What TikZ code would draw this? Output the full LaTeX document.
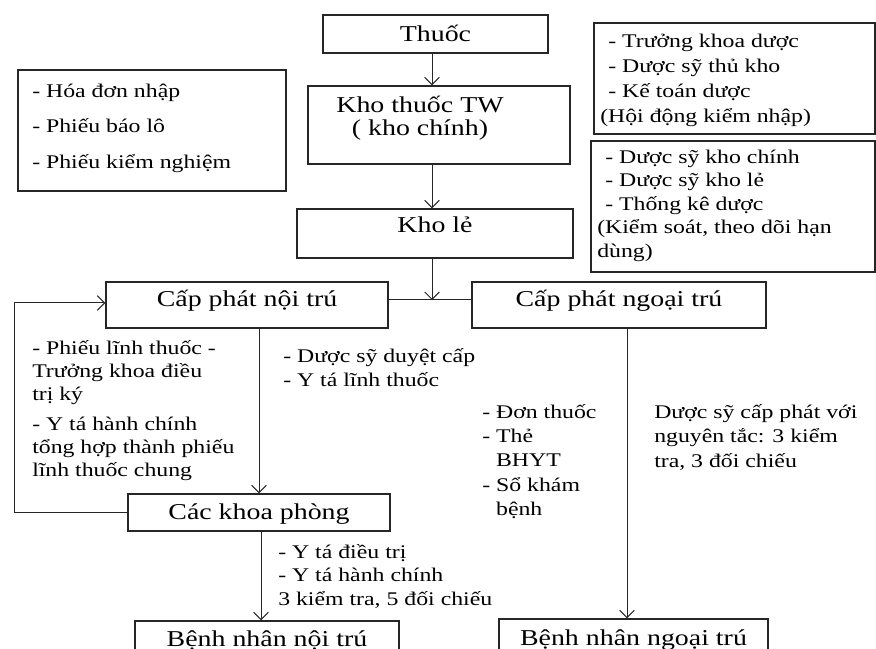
\documentclass[tikz,border=0pt]{standalone}
\usepackage{fontspec}
\setmainfont{Liberation Serif}[FakeStretch=1.23]
\usetikzlibrary{arrows.meta}
\newcommand\fstrut{\rule{0pt}{15pt}}
\newcommand\bstrut{\rule{0pt}{18pt}}
\begin{document}
\begin{tikzpicture}[x=0.75pt,y=-0.75pt,
  box/.style={draw=black!85, line width=1pt, inner sep=0pt, font=\fontsize{17}{20}\selectfont},
  side/.style={anchor=north west, inner sep=0pt, align=left},
  arr/.style={-{Straight Barb[length=5.5pt,width=11pt]}, line width=0.75pt, draw=black!85},
  ln/.style={line width=0.75pt, draw=black!85}]
\useasboundingbox (0,0) rectangle (876,649);
\clip (0,0) rectangle (876,649);
% main boxes
\node[box, minimum width=168.75pt, minimum height=28.5pt, text height=14pt, text depth=2pt] (thuoc) at (435.5,34) {Thuốc};
\node[box, minimum width=196.5pt, minimum height=58.5pt] (khotw) at (439,125) {};
\node[anchor=north, inner sep=0pt, align=center, font=\fontsize{17}{17.25}\selectfont] (khotwtext) at (420,88) {\bstrut Kho thuốc TW\\( kho chính)};
\node[box, minimum width=207pt, minimum height=36.75pt, text height=7.6pt, text depth=8.4pt] (khole) at (435,233.5) {Kho lẻ};
\node[box, minimum width=211.5pt, minimum height=34.5pt, text height=9.5pt, text depth=6.5pt] (cpnoi) at (247,305) {Cấp phát nội trú};
\node[box, minimum width=220.5pt, minimum height=34.5pt, text height=9.5pt, text depth=6.5pt] (cpngoai) at (619,305) {Cấp phát ngoại trú};
\node[box, minimum width=196.5pt, minimum height=27.75pt, text height=12.9pt, text depth=3.1pt] (ckp) at (259,512.5) {Các khoa phòng};
\node[box, minimum width=198pt, minimum height=36.75pt, text height=8.4pt, text depth=7.6pt] (bnnoi) at (267,645.5) {Bệnh nhân nội trú};
\node[box, minimum width=201.75pt, minimum height=38.25pt, text height=8.4pt, text depth=7.6pt] (bnngoai) at (633.5,644.5) {Bệnh nhân ngoại trú};
% note boxes
\node[box, minimum width=201pt, minimum height=90.75pt] (docs) at (152,130.5) {};
\node[side, font=\fontsize{14.5}{26.6}\selectfont] (docstext) at (32,77) {\fstrut- Hóa đơn nhập\\- Phiếu báo lô\\- Phiếu kiểm nghiệm};
\node[box, minimum width=210.75pt, minimum height=83.25pt] (hd1) at (734.5,78.5) {};
\node[side, font=\fontsize{14.5}{18.75}\selectfont] (hd1text) at (600,27) {\fstrut\hspace*{6pt}- Trưởng khoa dược\\\hspace*{6pt}- Dược sỹ thủ kho\\\hspace*{6pt}- Kế toán dược\\(Hội động kiểm nhập)};
\node[box, minimum width=213pt, minimum height=98.25pt] (hd2) at (733,206.5) {};
\node[side, font=\fontsize{14.5}{17.6}\selectfont] (hd2text) at (597,143) {\fstrut\hspace*{6pt}- Dược sỹ kho chính\\\hspace*{6pt}- Dược sỹ kho lẻ\\\hspace*{6pt}- Thống kê dược\\(Kiểm soát, theo dõi hạn\\dùng)};
% free texts
\node[side, font=\fontsize{14.5}{17.25}\selectfont] (noitext) at (32,334) {\fstrut- Phiếu lĩnh thuốc -\\Trưởng khoa điều\\trị ký\\[5.25pt]- Y tá hành chính\\tổng hợp thành phiếu\\lĩnh thuốc chung};
\node[side, font=\fontsize{14.5}{18}\selectfont] (duyet) at (283,342) {\fstrut- Dược sỹ duyệt cấp\\- Y tá lĩnh thuốc};
\node[side, font=\fontsize{14.5}{18.2}\selectfont] (donthuoc) at (482,398) {\fstrut- Đơn thuốc\\- Thẻ\\\phantom{- }BHYT\\- Sổ khám\\\phantom{- }bệnh};
\node[side, font=\fontsize{14.5}{18.5}\selectfont] (nguyentac) at (654,398) {\fstrut Dược sỹ cấp phát với\\nguyên tắc: 3 kiểm\\tra, 3 đối chiếu};
\node[side, font=\fontsize{14.5}{17.6}\selectfont] (ytadt) at (278,538) {\fstrut- Y tá điều trị\\- Y tá hành chính\\3 kiểm tra, 5 đối chiếu};
% connectors
\coordinate (sp) at (432,0);
\coordinate (j) at (432,300);
\coordinate (c1) at (259,0);
\coordinate (c2) at (261,0);
\coordinate (c3) at (627,0);
\coordinate (lp) at (14,0);
\coordinate (ly) at (0,303);
\draw[arr] (thuoc.south -| sp) -- (khotw.north -| sp);
\draw[arr] (khotw.south -| sp) -- (khole.north -| sp);
\draw[arr] (khole.south -| sp) -- (j);
\draw[ln] (cpnoi.east |- j) -- (cpngoai.west |- j);
\draw[arr] (cpnoi.south -| c1) -- (ckp.north -| c1);
\draw[arr] (ckp.south -| c2) -- (bnnoi.north -| c2);
\draw[arr] (ckp.west) -- (ckp.west -| lp) -- (lp |- ly) -- (cpnoi.west |- ly);
\draw[arr] (cpngoai.south -| c3) -- (bnngoai.north -| c3);
\end{tikzpicture}
\end{document}
